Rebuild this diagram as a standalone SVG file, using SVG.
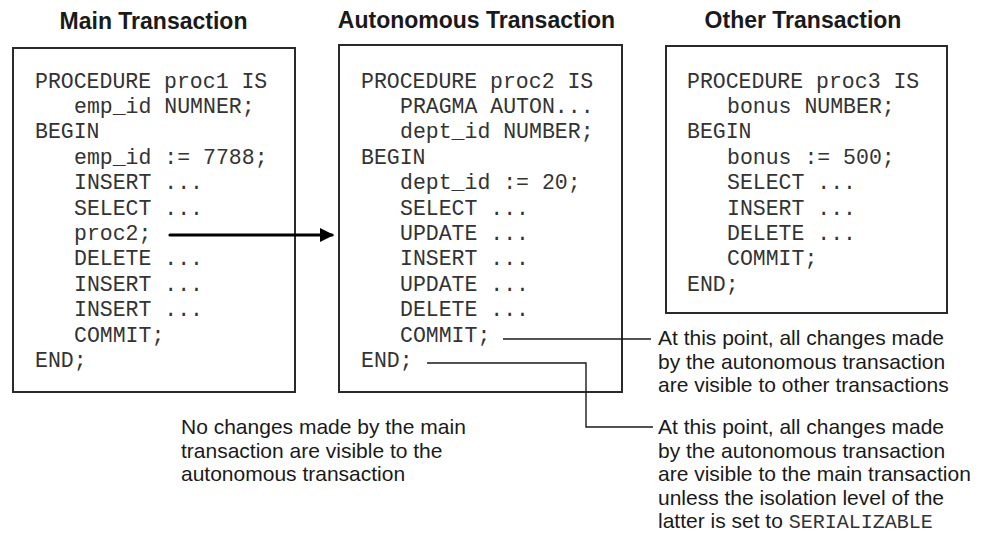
<svg xmlns="http://www.w3.org/2000/svg" width="987" height="541" viewBox="0 0 987 541">
<defs>
<style>
.box{fill:#fff;stroke:#2a2a2a;stroke-width:2}
.title{font-family:"Liberation Sans",Arial,sans-serif;font-weight:bold;font-size:23px;fill:#1a1a1a;text-anchor:middle}
.code{font-family:"Liberation Mono","Courier New",monospace;font-size:21.5px;fill:#333}
.note{font-family:"Liberation Sans",Arial,sans-serif;font-size:21px;fill:#1a1a1a}
.mono{font-family:"Liberation Mono","Courier New",monospace;font-size:20px;fill:#333}
.conn{fill:none;stroke:#1a1a1a;stroke-width:1.4}
</style>
<marker id="ah" markerWidth="14" markerHeight="14" refX="12" refY="7" orient="auto" markerUnits="userSpaceOnUse">
<path d="M0,0 L14,7 L0,14 Z" fill="#000"/>
</marker>
</defs>
<rect width="987" height="541" fill="#fff"/>

<g id="main">
<text class="title" x="153.5" y="29">Main Transaction</text>
<rect class="box" x="13" y="48" width="282" height="344"/>
<text class="code" x="35" y="87.5">PROCEDURE proc1 IS</text>
<text class="code" x="74" y="112.9">emp_id NUMNER;</text>
<text class="code" x="35" y="138.3">BEGIN</text>
<text class="code" x="74" y="163.7">emp_id := 7788;</text>
<text class="code" x="74" y="189.1">INSERT ...</text>
<text class="code" x="74" y="214.5">SELECT ...</text>
<text class="code" x="74" y="239.9">proc2;</text>
<text class="code" x="74" y="265.3">DELETE ...</text>
<text class="code" x="74" y="290.7">INSERT ...</text>
<text class="code" x="74" y="316.1">INSERT ...</text>
<text class="code" x="74" y="341.5">COMMIT;</text>
<text class="code" x="35" y="366.9">END;</text>
</g>

<g id="autonomous">
<text class="title" x="476.5" y="28">Autonomous Transaction</text>
<rect class="box" x="339" y="45" width="283" height="347"/>
<text class="code" x="361" y="87.5">PROCEDURE proc2 IS</text>
<text class="code" x="400" y="112.9">PRAGMA AUTON...</text>
<text class="code" x="400" y="138.3">dept_id NUMBER;</text>
<text class="code" x="361" y="163.7">BEGIN</text>
<text class="code" x="400" y="189.1">dept_id := 20;</text>
<text class="code" x="400" y="214.5">SELECT ...</text>
<text class="code" x="400" y="239.9">UPDATE ...</text>
<text class="code" x="400" y="265.3">INSERT ...</text>
<text class="code" x="400" y="290.7">UPDATE ...</text>
<text class="code" x="400" y="316.1">DELETE ...</text>
<text class="code" x="400" y="341.5">COMMIT;</text>
<text class="code" x="361" y="366.9">END;</text>
</g>

<g id="other">
<text class="title" x="803" y="28">Other Transaction</text>
<rect class="box" x="666" y="46" width="281" height="267"/>
<text class="code" x="687" y="87.5">PROCEDURE proc3 IS</text>
<text class="code" x="727" y="112.9">bonus NUMBER;</text>
<text class="code" x="687" y="138.3">BEGIN</text>
<text class="code" x="727" y="163.7">bonus := 500;</text>
<text class="code" x="727" y="189.1">SELECT ...</text>
<text class="code" x="727" y="214.5">INSERT ...</text>
<text class="code" x="727" y="239.9">DELETE ...</text>
<text class="code" x="727" y="265.3">COMMIT;</text>
<text class="code" x="687" y="290.7">END;</text>
</g>

<g id="note-commit">
<text class="note" x="658" y="345">At this point, all changes made</text>
<text class="note" x="658" y="368.5">by the autonomous transaction</text>
<text class="note" x="658" y="392">are visible to other transactions</text>
</g>

<g id="note-end">
<text class="note" x="658" y="434">At this point, all changes made</text>
<text class="note" x="658" y="457.5">by the autonomous transaction</text>
<text class="note" x="658" y="481">are visible to the main transaction</text>
<text class="note" x="658" y="504.5">unless the isolation level of the</text>
<text class="note" x="658" y="528">latter is set to <tspan class="mono">SERIALIZABLE</tspan></text>
</g>

<g id="note-main">
<text class="note" x="181" y="434">No changes made by the main</text>
<text class="note" x="181" y="457.5">transaction are visible to the</text>
<text class="note" x="181" y="481">autonomous transaction</text>
</g>

<g id="connectors">
<line x1="170" y1="235" x2="332" y2="235" stroke="#000" stroke-width="3.2" stroke-linecap="round" marker-end="url(#ah)"/>
<polyline class="conn" points="503,339 651,339"/>
<polyline class="conn" points="427,363 586,363 586,427 653,427"/>
</g>
</svg>
